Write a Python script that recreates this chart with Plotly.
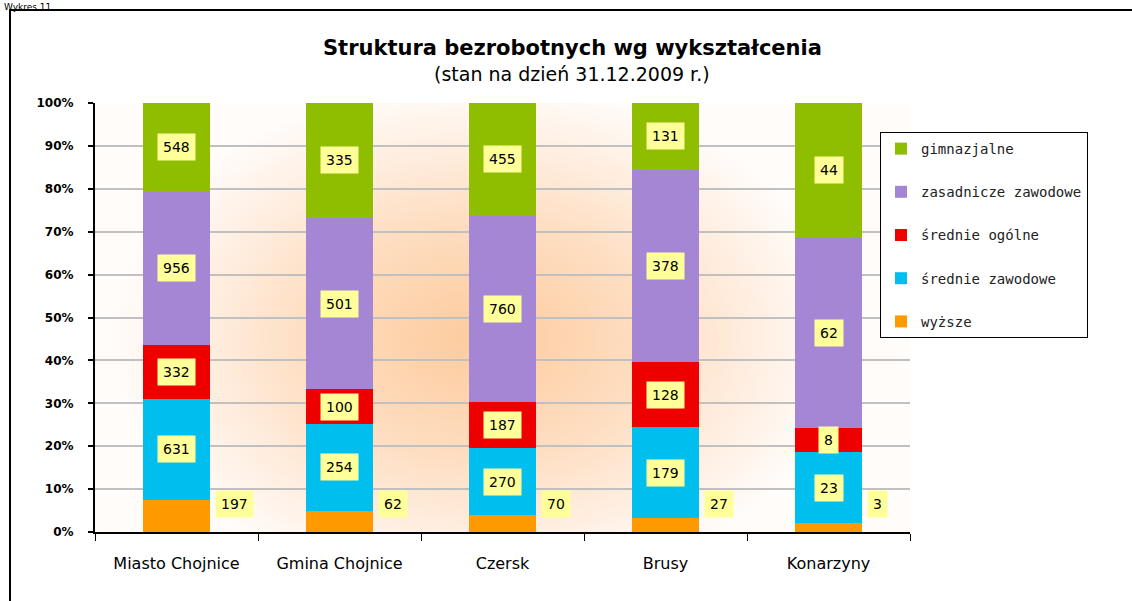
import base64
import plotly.graph_objects as go

categories = ["Miasto Chojnice", "Gmina Chojnice", "Czersk", "Brusy", "Konarzyny"]
wyzsze = [197, 62, 70, 27, 3]
srednie_zawodowe = [631, 254, 270, 179, 23]
srednie_ogolne = [332, 100, 187, 128, 8]
zasadnicze_zawodowe = [956, 501, 760, 378, 62]
gimnazjalne = [548, 335, 455, 131, 44]

series = [
    ("wyższe", wyzsze, "#FF9900"),
    ("średnie zawodowe", srednie_zawodowe, "#00BFEF"),
    ("średnie ogólne", srednie_ogolne, "#EE0000"),
    ("zasadnicze zawodowe", zasadnicze_zawodowe, "#A486D4"),
    ("gimnazjalne", gimnazjalne, "#8FBE00"),
]

W, H = 1132, 601
L, R, T, B = 95, 910, 103, 532
pw, ph = R - L, B - T


def px(x):
    return (x - L) / pw


def py(y):
    return (B - y) / ph


fig = go.Figure()
n = len(series)
for k, (name, vals, col) in enumerate(series):
    fig.add_trace(go.Bar(
        x=categories, y=vals, name=name, legendgroup=name, legendrank=n - k,
        marker=dict(color=col, line=dict(width=0)),
        hoverinfo="skip",
    ))

label_font = dict(family="DejaVu Sans", size=14, color="black")
totals = [sum(s[1][i] for s in series) for i in range(len(categories))]
annotations = []
for i, cat in enumerate(categories):
    cum = 0.0
    for k, (name, vals, col) in enumerate(series):
        pct = vals[i] / totals[i] * 100
        if k == 0:
            annotations.append(dict(
                x=cat, y=0, xref="x", yref="y", text=str(vals[i]), showarrow=False,
                xanchor="left", yanchor="bottom", xshift=38, yshift=14,
                bgcolor="#FFFF99", borderpad=5, font=label_font))
        else:
            annotations.append(dict(
                x=cat, y=cum + pct / 2, xref="x", yref="y", text=str(vals[i]),
                xanchor="center", yanchor="middle",
                showarrow=False, bgcolor="#FFFF99", borderpad=5, font=label_font))
        cum += pct

annotations += [
    dict(x=px(572), y=py(48), xref="paper", yref="paper", showarrow=False,
         xanchor="center", yanchor="middle",
         text="<b>Struktura bezrobotnych wg wykształcenia</b>",
         font=dict(family="DejaVu Sans", size=21, color="black")),
    dict(x=px(572), y=py(74), xref="paper", yref="paper", showarrow=False,
         xanchor="center", yanchor="middle",
         text="(stan na dzień 31.12.2009 r.)",
         font=dict(family="DejaVu Sans", size=19, color="black")),
    dict(x=px(2), y=py(0), xref="paper", yref="paper", showarrow=False,
         xanchor="left", yanchor="top", text="Wykres 11",
         font=dict(family="DejaVu Sans", size=9, color="black")),
]

svg = (
    '<svg xmlns="http://www.w3.org/2000/svg" width="815" height="429" viewBox="0 0 815 429" '
    'preserveAspectRatio="none"><defs><radialGradient id="g" cx="0.47" cy="0.55" r="0.6" '
    'gradientTransform="translate(0.47 0.55) scale(0.75 1) translate(-0.47 -0.55)">'
    '<stop offset="0" stop-color="#FDCB9D"/><stop offset="0.45" stop-color="#FEDDC0"/>'
    '<stop offset="0.8" stop-color="#FFF1E6"/><stop offset="1" stop-color="#FFFCFA"/>'
    '</radialGradient></defs><rect width="815" height="429" fill="url(#g)"/></svg>'
)
bg_src = "data:image/svg+xml;base64," + base64.b64encode(svg.encode()).decode()

fig.update_layout(
    width=W, height=H,
    margin=dict(l=L, r=W - R, t=T, b=H - B),
    paper_bgcolor="white", plot_bgcolor="rgba(0,0,0,0)",
    barmode="stack", barnorm="percent", bargap=0.595,
    showlegend=True,
    legend=dict(
        x=px(880), y=py(132), xanchor="left", yanchor="top",
        bgcolor="white", bordercolor="black", borderwidth=1,
        traceorder="grouped", tracegroupgap=22,
        font=dict(family="DejaVu Sans Mono", size=14, color="#222222"),
        itemclick=False, itemdoubleclick=False,
    ),
    images=[dict(source=bg_src, xref="paper", yref="paper", x=0, y=1,
                 sizex=1, sizey=1, sizing="stretch", layer="below",
                 xanchor="left", yanchor="top")],
    shapes=[dict(type="rect", xref="paper", yref="paper",
                 x0=px(10), x1=px(1200), y0=py(640), y1=py(10),
                 line=dict(color="black", width=2), fillcolor="rgba(0,0,0,0)",
                 layer="above")],
    annotations=annotations,
    xaxis=dict(
        showgrid=False, showline=True, linecolor="black", linewidth=2,
        ticks="outside", tickson="boundaries", ticklen=7, tickcolor="black",
        tickwidth=1, ticklabelstandoff=16,
        tickfont=dict(family="DejaVu Sans", size=16, color="black"),
        fixedrange=True,
    ),
    yaxis=dict(
        range=[0, 100], dtick=10, ticksuffix="%",
        showgrid=True, gridcolor="#C0C0C0", gridwidth=2,
        showline=True, linecolor="black", linewidth=2,
        ticks="outside", ticklen=5, tickcolor="black", tickwidth=2,
        ticklabelstandoff=12,
        tickfont=dict(family="DejaVu Sans", size=12, color="black", weight="bold"),
        zeroline=False, fixedrange=True,
    ),
)

fig.write_html("out.html", config={"displayModeBar": False},
               post_script="document.body.style.margin='0';")
